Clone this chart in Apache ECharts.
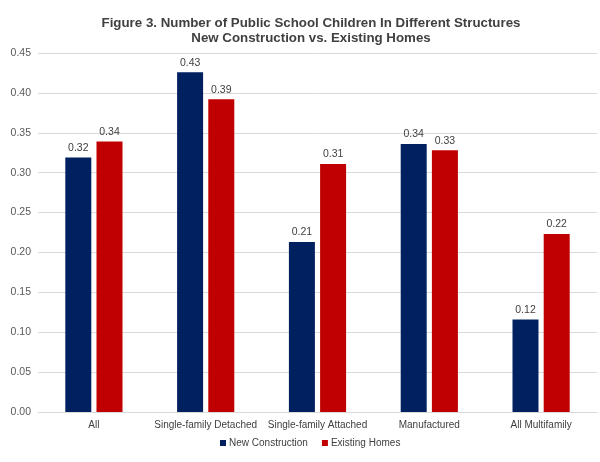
<!DOCTYPE html>
<html><head><meta charset="utf-8">
<script src="https://cdn.jsdelivr.net/npm/echarts@6/dist/echarts.min.js"></script>
<style>html,body{margin:0;padding:0;background:#fff}#c{width:600px;height:462px}</style>
</head><body><div id="c"></div>
<script>
const categories = ['All', 'Single-family Detached', 'Single-family Attached', 'Manufactured', 'All Multifamily'];
const newConstruction = [0.319, 0.426, 0.213, 0.336, 0.116];
const existingHomes = [0.339, 0.392, 0.311, 0.328, 0.223];
const seriesNames = ['New Construction', 'Existing Homes'];

const chart = echarts.init(document.getElementById('c'));
const lbl = {show: true, position: 'top', distance: 4, color: '#404040', fontSize: 10.5, fontFamily: 'Liberation Sans, Arial', formatter: p => p.value.toFixed(2)};
chart.setOption({
  animation: false,
  title: {
    text: 'Figure 3. Number of Public School Children In Different Structures\nNew Construction vs. Existing Homes',
    left: 306, top: 11, textAlign: 'center',
    textStyle: {fontSize: 13.3, fontWeight: 'bold', color: '#404040', fontFamily: 'Liberation Sans, Arial', lineHeight: 15}
  },
  legend: {
    data: seriesNames, bottom: 9, left: 215, itemWidth: 6, itemHeight: 6, itemGap: 14,
    icon: 'rect',
    textStyle: {fontSize: 10, color: '#404040', fontFamily: 'Liberation Sans, Arial', padding: [0, 0, 0, -2]}
  },
  grid: {left: 38, right: 3, top: 53, bottom: 50, containLabel: false},
  xAxis: {
    type: 'category', data: categories,
    axisLine: {lineStyle: {color: '#d9d9d9'}}, axisTick: {show: false},
    axisLabel: {color: '#404040', fontSize: 10, fontFamily: 'Liberation Sans, Arial', margin: 8, interval: 0}
  },
  yAxis: {
    type: 'value', min: 0, max: 0.45, interval: 0.05,
    axisLine: {show: false}, axisTick: {show: false},
    splitLine: {lineStyle: {color: '#d9d9d9', width: 1}},
    axisLabel: {color: '#595959', fontSize: 10.5, fontFamily: 'Liberation Sans, Arial', margin: 7, formatter: v => v.toFixed(2)}
  },
  series: [
    {name: seriesNames[0], type: 'bar', data: newConstruction, barWidth: 26, barGap: '20%',
     itemStyle: {color: '#002060'}, label: lbl},
    {name: seriesNames[1], type: 'bar', data: existingHomes, barWidth: 26, barGap: '20%',
     itemStyle: {color: '#C00000'}, label: lbl}
  ]
});
</script></body></html>
